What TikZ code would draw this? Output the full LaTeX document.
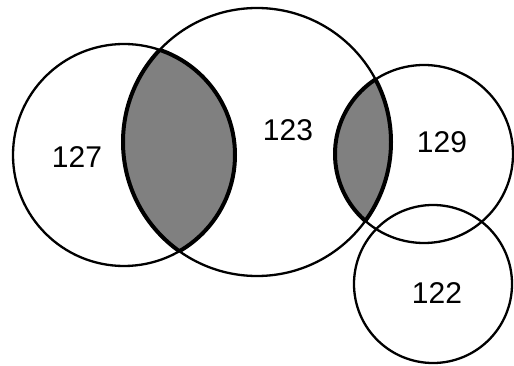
\documentclass[tikz,border=0pt]{standalone}
\usepackage{fontspec}
\setmainfont{Liberation Sans}

\begin{document}
\begin{tikzpicture}[x=1pt,y=-1pt]
	\tikzstyle{every node}=[font=\fontsize{30}{32}\selectfont]
	\tikzstyle{set}=[line width=2.3pt]
	\tikzstyle{lens}=[line width=4pt]
	\tikzstyle{shade}=[fill=black!50]

	\useasboundingbox (0,0) rectangle (514,366);

	\coordinate (c127) at (124,155);
	\coordinate (c123) at (257,142);
	\coordinate (c129) at (424,154);
	\coordinate (c122) at (433,284);

	% shaded overlaps
	\begin{scope}
		\clip (c127) circle (111);
		\fill[shade] (c123) circle (134);
	\end{scope}
	\begin{scope}
		\clip (c129) circle (90);
		\fill[shade] (c123) circle (134);
	\end{scope}

	\draw[set] (c127) circle (111);
	\draw[set] (c123) circle (134);
	\draw[set] (c129) circle (89);
	\draw[set] (c122) circle (79);

	% heavier rims round the overlaps
	\begin{scope}
		\clip (c127) circle (111);
		\draw[lens] (c123) circle (134);
	\end{scope}
	\begin{scope}
		\clip (c123) circle (134);
		\draw[lens] (c127) circle (111);
	\end{scope}
	\begin{scope}
		\clip (c129) circle (89);
		\draw[lens] (c123) circle (134);
	\end{scope}
	\begin{scope}
		\clip (c123) circle (134);
		\draw[lens] (c129) circle (89);
	\end{scope}

	\node (n127) at (77,157) {127};
	\node (n123) at (288,130) {123};
	\node (n129) at (442,142) {129};
	\node (n122) at (437,293) {122};
\end{tikzpicture}
\end{document}
